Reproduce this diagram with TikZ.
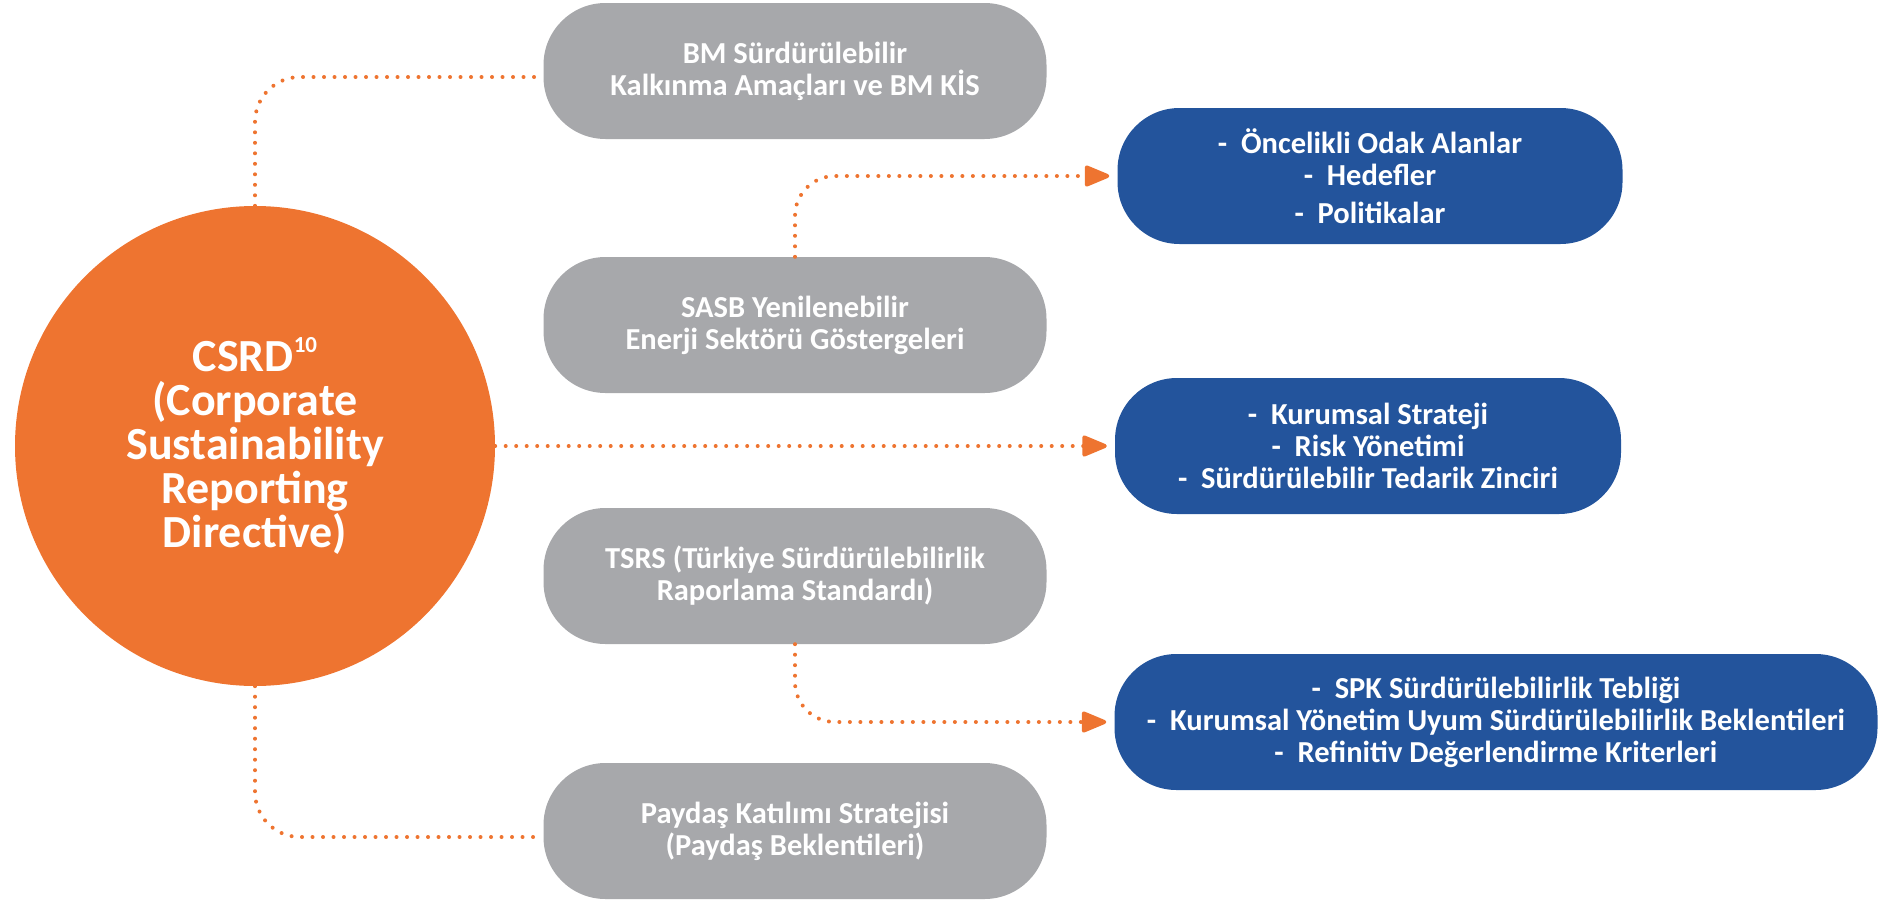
\documentclass[tikz,border=0pt]{standalone}
\usepackage{fontspec}
\setmainfont{Carlito}
\usetikzlibrary{arrows.meta,calc}
\definecolor{csrdorange}{HTML}{EE7430}
\definecolor{boxgray}{HTML}{A7A8AB}
\definecolor{boxblue}{HTML}{23549C}
\tikzset{
  graybox/.style={fill=boxgray, rounded corners=62pt, minimum width=503pt, minimum height=136pt,
    inner sep=0pt, align=center, text=white, font=\fontsize{30.5}{32}\selectfont\bfseries},
  bluebox/.style={fill=boxblue, rounded corners=62pt, minimum height=136pt,
    inner sep=0pt, align=center, text=white, font=\fontsize{30.5}{32}\selectfont\bfseries},
  dotline/.style={draw=csrdorange, line width=4pt, line cap=round, dash pattern=on 0pt off 10.5pt},
  dotarrow/.style={dotline, -{Triangle[width=22pt,length=28pt,round=false]}, shorten >=8pt},
}
\begin{document}
\begin{tikzpicture}[x=1pt,y=-1pt]
\useasboundingbox (0,0) rectangle (1893,900);
% central circle
\node[circle, fill=csrdorange, minimum size=480pt, inner sep=0pt, align=center, text=white,
  font=\fontsize{46}{44}\selectfont\bfseries] (csrd) at (255,446)
  {CSRD\raisebox{19pt}{\fontsize{23}{23}\selectfont 10}\\(Corporate\\Sustainability\\Reporting\\Directive)};
% gray boxes
\node[graybox] (bm) at (795,71) {BM Sürdürülebilir\\Kalkınma Amaçları ve BM KİS};
\node[graybox] (sasb) at (795,325) {SASB Yenilenebilir\\Enerji Sektörü Göstergeleri};
\node[graybox] (tsrs) at (795,576) {TSRS (Türkiye Sürdürülebilirlik\\Raporlama Standardı)};
\node[graybox] (paydas) at (795,831) {Paydaş Katılımı Stratejisi\\(Paydaş Beklentileri)};
% blue boxes
\node[bluebox, minimum width=505pt] (odak) at (1370,176)
  {-\ \ Öncelikli Odak Alanlar\\-\ \ Hedefler\\[6pt]-\ \ Politikalar};
\node[bluebox, minimum width=506pt] (strat) at (1368,446)
  {-\ \ Kurumsal Strateji\\-\ \ Risk Yönetimi\\-\ \ Sürdürülebilir Tedarik Zinciri};
\node[bluebox, minimum width=763pt] (spk) at (1496,722)
  {-\ \ SPK Sürdürülebilirlik Tebliği\\-\ \ Kurumsal Yönetim Uyum Sürdürülebilirlik Beklentileri\\-\ \ Refinitiv Değerlendirme Kriterleri};
% connectors
\coordinate (bmin) at ($(bm.west)+(0,6)$);
\coordinate (paydasin) at ($(paydas.west)+(0,6)$);
\draw[dotline, rounded corners=45pt] (csrd.north) |- (bmin);
\draw[dotline, rounded corners=45pt] (csrd.south) |- (paydasin);
\draw[dotarrow, rounded corners=40pt] (sasb.north) |- (odak.west);
\draw[dotarrow] (csrd.east) -- (strat.west);
\draw[dotarrow, rounded corners=40pt] (tsrs.south) |- (spk.west);
\end{tikzpicture}
\end{document}
